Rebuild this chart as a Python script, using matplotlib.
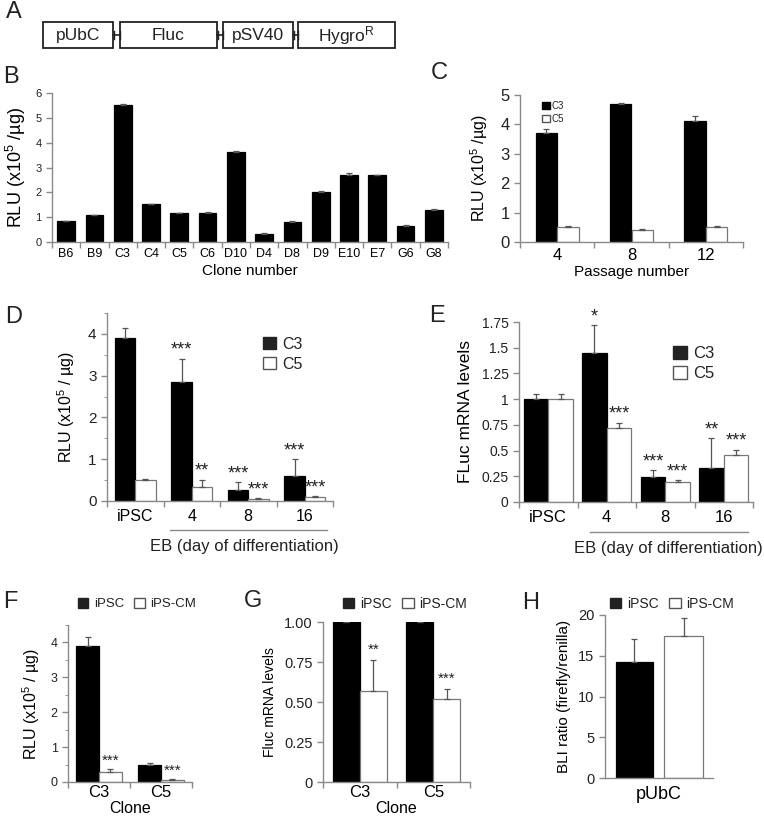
import numpy as np
import matplotlib
matplotlib.use("Agg")
import matplotlib.pyplot as plt
from matplotlib.patches import Rectangle, Patch

plt.rcParams['font.family'] = ['Liberation Sans', 'DejaVu Sans']
plt.rcParams['mathtext.fontset'] = 'custom'
plt.rcParams['mathtext.rm'] = 'Liberation Sans'
plt.rcParams['mathtext.default'] = 'regular'
plt.rcParams['text.color'] = '#222222'

W, H = 764, 824
GRAY = '#8a8a8a'

# ---- DATA ----
# panel A construct
constructs = ['pUbC', 'Fluc', 'pSV40', 'Hygro$^R$']

# panel B
clones_b = ['B6', 'B9', 'C3', 'C4', 'C5', 'C6', 'D10', 'D4', 'D8', 'D9', 'E10', 'E7', 'G6', 'G8']
rlu_b = [0.83, 1.07, 5.52, 1.52, 1.15, 1.17, 3.62, 0.33, 0.80, 2.00, 2.68, 2.68, 0.65, 1.30]
err_b = [0.03, 0.02, 0.04, 0.02, 0.03, 0.04, 0.05, 0.02, 0.03, 0.05, 0.08, 0.03, 0.04, 0.04]

# panel C
passage = ['4', '8', '12']
c3_c = [3.70, 4.68, 4.10]
c3_c_err = [0.14, 0.06, 0.18]
c5_c = [0.50, 0.42, 0.52]
c5_c_err = [0.03, 0.02, 0.03]

# panel D
stages = ['iPSC', '4', '8', '16']
c3_d = [3.90, 2.85, 0.27, 0.60]
c3_d_err = [0.25, 0.55, 0.18, 0.40]
c5_d = [0.50, 0.33, 0.05, 0.10]
c5_d_err = [0.02, 0.18, 0.02, 0.01]
c3_d_sig = ['', '***', '***', '***']
c5_d_sig = ['', '**', '***', '***']

# panel E
c3_e = [1.00, 1.45, 0.24, 0.33]
c3_e_err = [0.05, 0.27, 0.07, 0.29]
c5_e = [1.00, 0.72, 0.19, 0.46]
c5_e_err = [0.05, 0.05, 0.02, 0.05]
c3_e_sig = ['', '*', '***', '**']
c5_e_sig = ['', '***', '***', '***']

# panel F
clones_fg = ['C3', 'C5']
ipsc_f = [3.90, 0.50]
ipsc_f_err = [0.25, 0.04]
cm_f = [0.28, 0.05]
cm_f_err = [0.08, 0.03]
cm_f_sig = ['***', '***']

# panel G
ipsc_g = [1.00, 1.00]
ipsc_g_err = [0.0, 0.0]
cm_g = [0.57, 0.52]
cm_g_err = [0.19, 0.06]
cm_g_sig = ['**', '***']

# panel H
promoter = ['pUbC']
ipsc_h = [14.2]
ipsc_h_err = [2.9]
cm_h = [17.4]
cm_h_err = [2.2]


def px(l, t, r, b):
    return [l / W, 1 - b / H, (r - l) / W, (b - t) / H]


def style(ax, fs):
    for s in ['top', 'right']:
        ax.spines[s].set_visible(False)
    for s in ['left', 'bottom']:
        ax.spines[s].set_color(GRAY)
        ax.spines[s].set_linewidth(1.0)
    ax.tick_params(colors=GRAY, labelcolor='#222222', labelsize=fs, length=4, width=1.0)
    ax.set_facecolor('none')


def cat_axis(ax, labels, fs, pad=3):
    n = len(labels)
    ax.set_xlim(-0.5, n - 0.5)
    ax.set_xticks(np.arange(-0.5, n, 1.0))
    ax.set_xticklabels([])
    ax.set_xticks(np.arange(n), minor=True)
    ax.set_xticklabels(labels, minor=True, fontsize=fs)
    ax.tick_params(axis='x', which='minor', length=0, pad=pad)


def bars(ax, x, vals, errs, color, width):
    edge = 'black' if color == 'black' else '#777777'
    ax.bar(x, vals, width, color=color, edgecolor=edge, linewidth=0.9, zorder=2)
    ax.errorbar(x, vals, yerr=[np.zeros(len(vals)), errs], fmt='none',
                ecolor='#555555', elinewidth=0.9, capsize=2, capthick=0.9, zorder=3)


def stars(ax, x, vals, errs, sig, fs, dy):
    for xi, v, e, s in zip(x, vals, errs, sig):
        if s:
            ax.text(xi, v + e + dy, s, ha='center', va='bottom', fontsize=fs, color='#222222')


fig = plt.figure(figsize=(W / 100, H / 100), dpi=100)

# overlay for panel letters and construct diagram
ov = fig.add_axes([0, 0, 1, 1])
ov.set_xlim(0, W)
ov.set_ylim(H, 0)
ov.axis('off')
for lab, (x, y) in zip('ABCDEFGH', [(14, 12), (11, 77), (439, 73), (14, 317),
                                     (437, 316), (10, 602), (253, 601), (531, 603)]):
    ov.text(x, y, lab, fontsize=17, ha='center', va='center')

box_x = [(43, 113), (120, 217), (223, 293), (298, 395)]
for (x0, x1), name in zip(box_x, constructs):
    ov.add_patch(Rectangle((x0, 22), x1 - x0, 26, fill=False, edgecolor='#222222', linewidth=1.3))
    ov.text((x0 + x1) / 2, 35.5, name, fontsize=12.5, ha='center', va='center')
for (a0, a1), (b0, b1) in zip(box_x[:-1], box_x[1:]):
    ov.plot([a1, b0], [35, 35], color='#222222', lw=1.2)
    ov.plot([a1 + 0.5, a1 + 0.5], [31, 39], color='#222222', lw=1.0)
    ov.plot([b0 - 0.5, b0 - 0.5], [31, 39], color='#222222', lw=1.0)

# underlines for EB groups
ov.plot([170, 327], [530, 530], color=GRAY, lw=1.0)
ov.plot([590, 748], [532, 532], color=GRAY, lw=1.0)

# ---- B ----
ax = fig.add_axes(px(52, 93, 448, 242))
style(ax, 8)
x = np.arange(len(clones_b))
bars(ax, x, rlu_b, err_b, 'black', 0.63)
cat_axis(ax, clones_b, 9, pad=4)
ax.set_ylim(0, 6)
ax.set_yticks(range(7))
ax.set_ylabel('RLU (x10$^5$ /µg)', fontsize=13, labelpad=5)
ax.set_xlabel('Clone number', fontsize=11, labelpad=3)

# ---- C ----
ax = fig.add_axes(px(520, 95, 743, 242))
style(ax, 12)
x = np.arange(len(passage))
bars(ax, x - 0.145, c3_c, c3_c_err, 'black', 0.29)
bars(ax, x + 0.145, c5_c, c5_c_err, 'white', 0.29)
cat_axis(ax, passage, 12, pad=4)
ax.set_ylim(0, 5)
ax.set_yticks(range(6))
ax.set_ylabel('RLU (x10$^5$ /µg)', fontsize=11.5, labelpad=7)
ax.set_xlabel('Passage number', fontsize=11, labelpad=2)
ax.legend(handles=[Patch(facecolor='black', edgecolor='black', label='C3'),
                   Patch(facecolor='white', edgecolor='#555555', label='C5')],
          loc='upper left', bbox_to_anchor=(0.06, 1.02), frameon=False, fontsize=7,
          handlelength=0.8, handleheight=0.8, handletextpad=0.2, labelspacing=0.3)

# ---- D ----
ax = fig.add_axes(px(107, 313, 333, 501))
style(ax, 11)
x = np.arange(len(stages))
bars(ax, x - 0.18, c3_d, c3_d_err, 'black', 0.36)
bars(ax, x + 0.18, c5_d, c5_d_err, 'white', 0.36)
stars(ax, x - 0.18, c3_d, c3_d_err, c3_d_sig, 13, 0.0)
stars(ax, x + 0.18, c5_d, c5_d_err, c5_d_sig, 13, 0.0)
cat_axis(ax, stages, 11.5, pad=6)
ax.set_ylim(0, 4.5)
ax.set_yticks(range(5))
ax.set_yticks(np.arange(0.5, 4.6, 1.0), minor=True)
ax.tick_params(axis='y', which='minor', length=2.5, color=GRAY)
ax.set_ylabel('RLU (x10$^5$ / µg)', fontsize=11.5, labelpad=8)
ax.legend(handles=[Patch(facecolor='#222222', edgecolor='#222222', label='C3'),
                   Patch(facecolor='white', edgecolor='#555555', label='C5')],
          loc='upper right', bbox_to_anchor=(0.93, 0.95), frameon=False, fontsize=11.5,
          handlelength=0.8, handleheight=0.8, handletextpad=0.4, labelspacing=0.3)
fig.text(244 / W, 1 - 547 / H, 'EB (day of differentiation)', fontsize=12, ha='center', va='center')

# ---- E ----
ax = fig.add_axes(px(519, 322, 753, 502))
style(ax, 10)
x = np.arange(len(stages))
bars(ax, x - 0.21, c3_e, c3_e_err, 'black', 0.42)
bars(ax, x + 0.21, c5_e, c5_e_err, 'white', 0.42)
stars(ax, x - 0.21, c3_e, c3_e_err, c3_e_sig, 13, 0.0)
stars(ax, x + 0.21, c5_e, c5_e_err, c5_e_sig, 13, 0.0)
cat_axis(ax, stages, 12, pad=6)
ax.set_ylim(0, 1.75)
ax.set_yticks(np.arange(0, 1.76, 0.25))
ax.set_yticklabels(['0', '0.25', '0.5', '0.75', '1', '1.25', '1.5', '1.75'])
ax.set_ylabel('FLuc mRNA levels', fontsize=12.5, labelpad=6)
ax.legend(handles=[Patch(facecolor='#222222', edgecolor='#222222', label='C3'),
                   Patch(facecolor='white', edgecolor='#555555', label='C5')],
          loc='upper right', bbox_to_anchor=(0.9, 0.95), frameon=False, fontsize=12,
          handlelength=0.8, handleheight=0.8, handletextpad=0.4, labelspacing=0.3)
fig.text(668 / W, 1 - 549 / H, 'EB (day of differentiation)', fontsize=12, ha='center', va='center')

leg_fg = [Patch(facecolor='#222222', edgecolor='#222222', label='iPSC'),
          Patch(facecolor='white', edgecolor='#555555', label='iPS-CM')]

# ---- F ----
ax = fig.add_axes(px(68, 625, 192, 782))
style(ax, 9)
x = np.arange(len(clones_fg))
bars(ax, x - 0.185, ipsc_f, ipsc_f_err, 'black', 0.37)
bars(ax, x + 0.185, cm_f, cm_f_err, 'white', 0.37)
stars(ax, x + 0.185, cm_f, cm_f_err, cm_f_sig, 11, 0.05)
cat_axis(ax, clones_fg, 12, pad=2)
ax.set_ylim(0, 4.5)
ax.set_yticks(range(5))
ax.set_yticks(np.arange(0.5, 4.6, 1.0), minor=True)
ax.tick_params(axis='y', which='minor', length=2.5, color=GRAY)
ax.set_ylabel('RLU (x10$^5$ / µg)', fontsize=11.5, labelpad=6)
ax.set_xlabel('Clone', fontsize=11.5, labelpad=1)
fig.legend(handles=leg_fg, loc='center', bbox_to_anchor=(137 / W, 1 - 604 / H), ncol=2,
           frameon=False, fontsize=9.5, handlelength=0.8, handleheight=0.8,
           handletextpad=0.4, columnspacing=0.8)

# ---- G ----
ax = fig.add_axes(px(323, 622, 470, 782))
style(ax, 10.5)
x = np.arange(len(clones_fg))
bars(ax, x - 0.185, ipsc_g, ipsc_g_err, 'black', 0.37)
bars(ax, x + 0.185, cm_g, cm_g_err, 'white', 0.37)
stars(ax, x + 0.185, cm_g, cm_g_err, cm_g_sig, 11, 0.02)
cat_axis(ax, clones_fg, 12, pad=2)
ax.set_ylim(0, 1.0)
ax.set_yticks([0, 0.25, 0.5, 0.75, 1.0])
ax.set_yticklabels(['0', '0.25', '0.50', '0.75', '1.00'])
ax.set_ylabel('Fluc mRNA levels', fontsize=10, labelpad=5)
ax.set_xlabel('Clone', fontsize=11.5, labelpad=1)
fig.legend(handles=leg_fg, loc='center', bbox_to_anchor=(405 / W, 1 - 604 / H), ncol=2,
           frameon=False, fontsize=10, handlelength=0.8, handleheight=0.8,
           handletextpad=0.4, columnspacing=0.8)

# ---- H ----
ax = fig.add_axes(px(605, 615, 713, 778))
style(ax, 10.5)
bars(ax, [-0.227], ipsc_h, ipsc_h_err, 'black', 0.34)
bars(ax, [0.227], cm_h, cm_h_err, 'white', 0.36)
cat_axis(ax, promoter, 13, pad=6)
ax.set_xticks([])
ax.set_ylim(0, 20)
ax.set_yticks([0, 5, 10, 15, 20])
ax.set_ylabel('BLI ratio (firefly/renilla)', fontsize=11, labelpad=5)
fig.legend(handles=leg_fg, loc='center', bbox_to_anchor=(672 / W, 1 - 604 / H), ncol=2,
           frameon=False, fontsize=10, handlelength=0.8, handleheight=0.8,
           handletextpad=0.4, columnspacing=0.8)

fig.savefig('out.png', dpi=100)
